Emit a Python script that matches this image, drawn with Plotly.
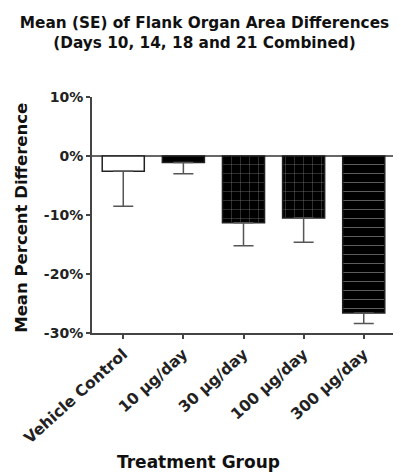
import plotly.graph_objects as go

categories = ["Vehicle Control", "10 µg/day", "30 µg/day", "100 µg/day", "300 µg/day"]
means = [-2.6, -1.1, -11.3, -10.5, -26.6]
se = [5.9, 1.9, 3.9, 4.1, 1.8]
bar_colors = ["white", "black", "black", "black", "black"]
bar_patterns = ["", "", "+", "+", "-"]
y_tickvals = [10, 0, -10, -20, -30]
y_ticktext = ["10%", "0%", "-10%", "-20%", "-30%"]

FONT = "DejaVu Sans"

# the page body adds an 8px offset, so the figure is sized to the visible area
W, H = 393, 468

fig = go.Figure()
fig.add_trace(go.Bar(
    x=list(range(len(categories))),
    y=means,
    width=0.7,
    marker=dict(color=bar_colors, line=dict(color="#222", width=1.5),
                pattern=dict(shape=bar_patterns, fgcolor="#404040",
                             size=9, solidity=0.08, fillmode="overlay")),
    error_y=dict(type="data", symmetric=False, array=[0]*len(se), arrayminus=se,
                 color="#555", thickness=1.5, width=10),
))

fig.add_annotation(
    text="<b>Treatment Group</b>", xref="paper", yref="paper",
    x=0.353, y=-0.547, xanchor="center", yanchor="middle", showarrow=False,
    font=dict(size=17, family=FONT, color="#111"),
)
fig.add_annotation(
    text="<b>Mean Percent Difference</b>", xref="paper", yref="paper",
    x=-0.233, y=0.49, xanchor="center", yanchor="middle", showarrow=False,
    textangle=-90,
    font=dict(size=16.5, family=FONT, color="#111"),
)

fig.update_layout(
    width=W, height=H,
    margin=dict(l=84, r=6, t=89, b=143),
    paper_bgcolor="white", plot_bgcolor="white",
    showlegend=False,
    font=dict(family=FONT, color="#111"),
    title=dict(
        text="<b>Mean (SE) of Flank Organ Area Differences<br>(Days 10, 14, 18 and 21 Combined)</b>",
        x=0.5, xanchor="center", y=0.958, yanchor="top",
        font=dict(size=15.3, family=FONT, color="#111"),
    ),
    xaxis=dict(
        range=[-0.52, 4.52],
        tickvals=list(range(len(categories))),
        ticktext=["<b>%s</b>" % c for c in categories],
        tickangle=-42,
        tickfont=dict(size=15.5, family=FONT, color="#222"),
        showline=True, linecolor="#444", linewidth=2,
        ticks="outside", ticklen=4, tickcolor="#444", tickwidth=2,
        showgrid=False, zeroline=False, automargin=False,
    ),
    yaxis=dict(
        range=[-30, 10],
        tickvals=y_tickvals,
        ticktext=["<b>%s</b>" % t for t in y_ticktext],
        tickfont=dict(size=14, family=FONT, color="#222"),
        showline=True, linecolor="#444", linewidth=2,
        ticks="outside", ticklen=4, tickcolor="#444", tickwidth=2,
        showgrid=False, automargin=False,
        zeroline=True, zerolinecolor="#666", zerolinewidth=2,
    ),
)

fig.write_html("out.html")
